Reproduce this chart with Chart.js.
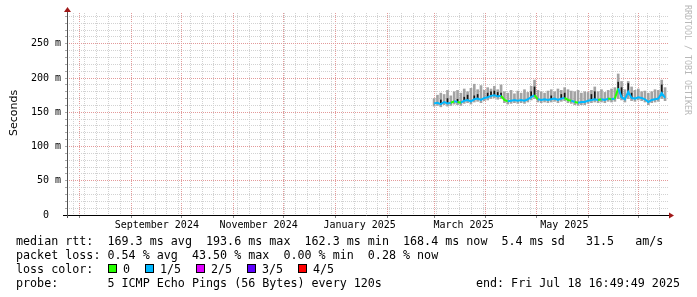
<!DOCTYPE html>
<html lang="en">
<head>
<meta charset="UTF-8">
<title>smokeping</title>
<script src="https://cdn.jsdelivr.net/npm/chart.js@4.4.1/dist/chart.umd.min.js"></script>
<style>
  body { margin: 0; background: #fff; }
  canvas { display: block; }
</style>
</head>
<body>
<canvas id="myChart" width="697" height="297"></canvas>
<script>
// x = days since 2024-07-24 00:00, y = ms
const days = [
  220, 222, 224, 226, 228, 230, 232, 234, 236, 238,
  240, 242, 244, 246, 248, 250, 252, 254, 256, 258,
  260, 262, 264, 266, 268, 270, 272, 274, 276, 278,
  280, 282, 284, 286, 288, 290, 292, 294, 296, 298,
  300, 302, 304, 306, 308, 310, 312, 314, 316, 318,
  320, 322, 324, 326, 328, 330, 332, 334, 336, 338,
  340, 342, 344, 346, 348, 350, 352, 354, 356, 358
];
const medians = [
  163, 164, 162, 165, 163, 164, 166, 165, 164, 167,
  168, 166, 169, 170, 168, 171, 172, 174, 175, 173,
  174, 168, 166, 167, 168, 167, 168, 167, 169, 172,
  175, 169, 168, 169, 168, 169, 170, 168, 170, 171,
  168, 167, 165, 164, 165, 165, 167, 168, 169, 168,
  169, 168, 170, 169, 170, 185, 172, 169, 180, 171,
  170, 172, 171, 169, 165, 168, 169, 170, 178, 171
];
const smokeHi = [
  170, 175, 178, 176, 182, 174, 180, 182, 178, 184,
  180, 185, 191, 183, 189, 182, 186, 184, 188, 183,
  190, 180, 178, 182, 177, 181, 178, 183, 179, 188,
  197, 182, 180, 178, 181, 183, 180, 184, 182, 186,
  183, 181, 180, 182, 178, 180, 179, 182, 187, 180,
  183, 179, 182, 184, 186, 206, 195, 183, 195, 187,
  182, 184, 180, 181, 178, 180, 183, 182, 197, 186
];
const smokeLo = [
  159, 160, 158, 161, 159, 160, 162, 161, 160, 163,
  164, 162, 165, 166, 164, 167, 168, 170, 171, 169,
  170, 164, 162, 163, 164, 163, 164, 163, 165, 168,
  170, 165, 164, 165, 164, 165, 166, 164, 166, 167,
  164, 163, 161, 160, 161, 161, 163, 164, 165, 164,
  165, 164, 166, 165, 166, 170, 168, 165, 170, 167,
  166, 168, 167, 165, 161, 164, 165, 166, 170, 167
];
const darkHi = [
  null, null, 168, null, 170, null, null, 169, null, 172,
  175, null, 174, 176, null, null, 178, 180, 181, 179,
  178, null, null, null, null, null, null, null, null, 180,
  187, null, null, null, null, 174, null, null, 176, 178,
  null, null, null, null, null, null, null, 176, 180, null,
  null, null, null, null, null, 194, 186, null, 192, 178,
  null, null, null, null, null, null, null, null, 190, null
];
// lost pings out of 5
const loss = [
  0, 1, 1, 1, 1, 1, 0, 1, 0, 1,
  1, 1, 1, 1, 1, 1, 1, 1, 1, 1,
  1, 0, 0, 1, 1, 1, 1, 1, 1, 1,
  1, 0, 1, 1, 1, 1, 1, 1, 1, 1,
  0, 0, 1, 0, 1, 1, 1, 1, 1, 1,
  0, 1, 1, 0, 1, 0, 1, 1, 1, 1,
  1, 1, 1, 1, 1, 1, 1, 1, 1, 1
];

const lossColors = ['#26ff00', '#00b8ff', '#e000ff', '#5e00ff', '#ff0000'];
const lossLabels = ['0', '1/5', '2/5', '3/5', '4/5'];

const yLabelValues = [0, 50, 100, 150, 200, 250];
const monthDays = [8, 39, 69, 100, 130, 161, 192, 220, 251, 281, 312, 342];
const labelDays = [54.3, 115.1, 175.5, 237.6, 297.8];
const labelNames = ['September 2024', 'November 2024', 'January 2025', 'March 2025', 'May 2025'];

const legendLines = [
  'median rtt:  169.3 ms avg  193.6 ms max  162.3 ms min  168.4 ms now  5.4 ms sd   31.5   am/s',
  'packet loss: 0.54 % avg  43.50 % max  0.00 % min  0.28 % now',
  'loss color:',
  'probe:       5 ICMP Echo Pings (56 Bytes) every 120s'
];
const endText = 'end: Fri Jul 18 16:49:49 2025';

const minorGrid = '#d2d2d2';
const majorGrid = '#e39a9a';
const none = 'rgba(0,0,0,0)';

// grid ticks
const xTicks = [];
for (let d = 4.4; d < 360; d += 7) xTicks.push({ value: d, kind: 'week' });
monthDays.forEach(d => xTicks.push({ value: d, kind: 'month' }));
labelDays.forEach((d, i) => xTicks.push({ value: d, kind: 'label', name: labelNames[i] }));

const yTicks = [];
for (let v = 0; v < 295; v += 10) yTicks.push(v);

const smokeData = days.map((d, i) => ({ x: d, y: [smokeLo[i], smokeHi[i]] }));
const darkData = days.map((d, i) => darkHi[i] === null ? null : ({ x: d, y: [medians[i], darkHi[i]] }))
  .filter(p => p !== null);
const medianData = days.map((d, i) => ({ x: d, y: medians[i] }));

const extras = {
  id: 'extras',
  afterDraw(chart) {
    const c = chart.ctx;
    const a = chart.chartArea;
    c.save();
    // axes
    c.lineWidth = 1;
    c.strokeStyle = '#000';
    c.beginPath();
    c.moveTo(a.left - 4, a.bottom + 0.5);
    c.lineTo(a.right + 1, a.bottom + 0.5);
    c.stroke();
    c.strokeStyle = '#505050';
    c.beginPath();
    c.moveTo(a.left + 0.5, a.bottom + 3);
    c.lineTo(a.left + 0.5, a.top - 2);
    c.stroke();
    c.fillStyle = '#a01818';
    c.beginPath();
    c.moveTo(a.right, a.bottom - 2.5);
    c.lineTo(a.right + 5, a.bottom + 0.5);
    c.lineTo(a.right, a.bottom + 3.5);
    c.fill();
    c.beginPath();
    c.moveTo(a.left - 3, a.top - 1);
    c.lineTo(a.left + 0.5, a.top - 6);
    c.lineTo(a.left + 4, a.top - 1);
    c.fill();

    // axis title
    c.save();
    c.translate(16.5, 113);
    c.rotate(-Math.PI / 2);
    c.font = '11px "DejaVu Sans"';
    c.fillStyle = '#000';
    c.textAlign = 'center';
    c.fillText('Seconds', 0, 0);
    c.restore();

    // watermark
    c.save();
    c.translate(685, 5);
    c.rotate(Math.PI / 2);
    c.font = '8.3px "DejaVu Sans Mono"';
    c.fillStyle = '#b8b8b8';
    c.fillText('RRDTOOL / TOBI OETIKER', 0, 0);
    c.restore();

    // legend
    c.font = '11.7px "DejaVu Sans Mono"';
    c.fillStyle = '#000';
    legendLines.forEach((t, i) => c.fillText(t, 16, 245 + i * 14));
    c.textAlign = 'right';
    c.fillText(endText, 680, 287);
    c.textAlign = 'left';
    let x = 108;
    lossLabels.forEach((t, i) => {
      c.fillStyle = lossColors[i];
      c.fillRect(x, 264, 9, 9);
      c.strokeStyle = '#000';
      c.strokeRect(x + 0.5, 264.5, 8, 8);
      c.fillStyle = '#000';
      c.fillText(t, x + 15, 273);
      x = Math.round(x + 15 + c.measureText(t).width + 15);
    });
    c.restore();
  }
};

const ctx = document.getElementById('myChart').getContext('2d');
new Chart(ctx, {
  type: 'bar',
  data: {
    datasets: [
      {
        type: 'line',
        data: medianData,
        borderColor: lossColors[1],
        borderWidth: 2,
        pointRadius: 0,
        tension: 0,
        segment: { borderColor: s => lossColors[loss[s.p1DataIndex]] },
        order: 0
      },
      {
        data: darkData,
        backgroundColor: '#151515',
        barThickness: 1,
        grouped: false,
        order: 1
      },
      {
        data: smokeData,
        backgroundColor: '#a3a3a3',
        barThickness: 2,
        grouped: false,
        order: 2
      }
    ]
  },
  options: {
    responsive: false,
    animation: false,
    devicePixelRatio: 1,
    layout: { padding: { top: 13, right: 28, left: 0, bottom: 0 } },
    plugins: { legend: { display: false }, tooltip: { enabled: false } },
    scales: {
      x: {
        type: 'linear',
        min: 0.65,
        max: 360.35,
        offset: false,
        afterBuildTicks: axis => { axis.ticks = xTicks.map(t => Object.assign({}, t)); },
        afterFit: axis => { axis.height = 82; },
        grid: {
          offset: false,
          color: g => g.tick.kind === 'week' ? minorGrid : (g.tick.kind === 'month' ? majorGrid : none),
          tickLength: 3,
          tickColor: g => g.tick.kind === 'month' ? '#888' : none
        },
        border: { display: false, dash: [1, 1] },
        ticks: {
          autoSkip: false,
          maxRotation: 0,
          minRotation: 0,
          padding: 1,
          color: '#000',
          font: { family: 'DejaVu Sans Mono', size: 10 },
          callback: (v, i, ts) => ts[i].name || ''
        }
      },
      y: {
        min: 0,
        max: 295,
        afterBuildTicks: axis => { axis.ticks = yTicks.map(v => ({ value: v })); },
        afterFit: axis => { axis.width = 67; },
        grid: {
          color: g => g.tick.value === 0 ? none : (g.tick.value % 50 === 0 ? majorGrid : minorGrid),
          tickLength: 2,
          tickColor: '#aaa'
        },
        border: { display: false, dash: [1, 1] },
        ticks: {
          autoSkip: false,
          padding: 4,
          color: '#000',
          font: { family: 'DejaVu Sans Mono', size: 10 },
          callback: v => yLabelValues.includes(v) ? (v === 0 ? '0  ' : v + ' m') : ''
        }
      }
    }
  },
  plugins: [extras]
});
</script>
</body>
</html>
